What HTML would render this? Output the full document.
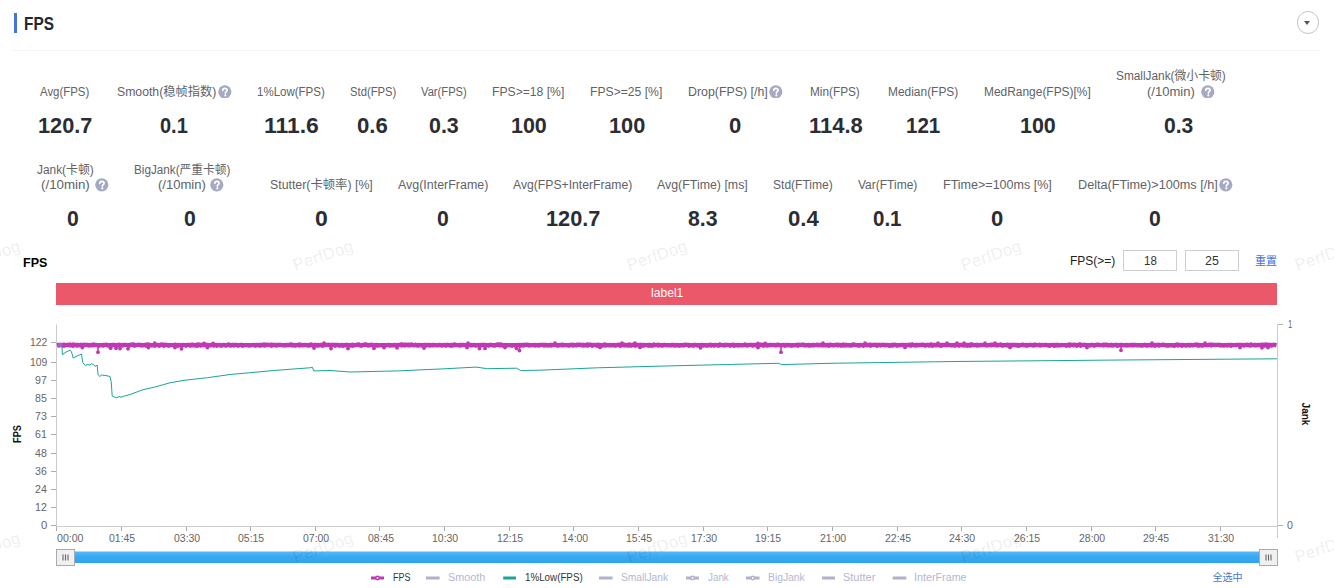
<!DOCTYPE html><html><head><meta charset="utf-8"><title>FPS</title><style>
html,body{margin:0;padding:0;background:#fff}
body{width:1334px;height:588px;position:relative;overflow:hidden;font-family:"Liberation Sans","Noto Sans CJK SC",sans-serif}
.t{position:absolute;white-space:nowrap;transform-origin:0 0;display:inline-block}
.cj{display:inline-block}
.hp{position:absolute}
.wm{position:absolute;font-size:16.5px;line-height:18px;width:80px;text-align:center;color:rgba(0,0,0,.085);transform:rotate(-19deg);transform-origin:50% 50%;white-space:nowrap;letter-spacing:.3px;z-index:9}
.bar{position:absolute;left:13.6px;top:13px;width:3.5px;height:19.5px;background:#4672d9}
.sep{position:absolute;left:13px;top:49.5px;width:1307px;height:1px;background:#f4f4f4}
.dd{position:absolute;left:1296.6px;top:11.2px;width:20.6px;height:20.6px;border:1px solid #c4c4c4;border-radius:50%}
.dd:after{content:"";position:absolute;left:6.5px;top:8.7px;border:3.7px solid transparent;border-top:4.8px solid #55575c;border-bottom:0}
.inp{position:absolute;top:250px;width:52px;height:19px;border:1px solid #cfcfcf;background:#fff}
.rot{position:absolute;white-space:nowrap;font-weight:bold;font-size:10px;line-height:10px;color:#111}
</style></head><body>
<span class="wm" style="left:-50.5px;top:245.5px">PerfDog</span>
<span class="wm" style="left:283px;top:245.5px">PerfDog</span>
<span class="wm" style="left:617px;top:245.5px">PerfDog</span>
<span class="wm" style="left:950.5px;top:245.5px">PerfDog</span>
<span class="wm" style="left:1284.5px;top:245.5px">PerfDog</span>
<span class="wm" style="left:-50.5px;top:537.5px">PerfDog</span>
<span class="wm" style="left:283px;top:537.5px">PerfDog</span>
<span class="wm" style="left:617px;top:537.5px">PerfDog</span>
<span class="wm" style="left:950.5px;top:537.5px">PerfDog</span>
<span class="wm" style="left:1284.5px;top:537.5px">PerfDog</span>
<div class="bar"></div><div class="sep"></div><div class="dd"></div>
<div class="inp" style="left:1123px"></div><div class="inp" style="left:1185px"></div>
<svg id="chart" width="1334" height="588" viewBox="0 0 1334 588" style="position:absolute;left:0;top:0">
<rect x="56" y="283" width="1221" height="22" fill="#ea5869"/>
<path d="M56.5 324.5V526" stroke="#ccc" fill="none"/>
<path d="M56 526.5H1278" stroke="#ccc" fill="none"/>
<path d="M1277.5 324.5V538" stroke="#ccc" fill="none"/>
<path d="M51 525.5H56M51 507.5H56M51 489.5H56M51 471.5H56M51 453.5H56M51 434.5H56M51 416.5H56M51 398.5H56M51 380.5H56M51 362.5H56M51 342.5H56M1278 324.5H1283M1278 525.5H1283" stroke="#aeaeae" fill="none"/>
<path d="M56.5 527V531M121.5 527V531M186.5 527V531M250.5 527V531M315.5 527V531M379.5 527V531M444.5 527V531M509.5 527V531M573.5 527V531M638.5 527V531M703.5 527V531M767.5 527V531M832.5 527V531M897.5 527V531M961.5 527V531M1026.5 527V531M1091.5 527V531M1155.5 527V531M1220.5 527V531" stroke="#aaa" fill="none"/>
<path d="M60.0 345.0 62.0 345.0 62.4 354.7 66.0 352.0 70.2 350.2 71.5 352.0 73.2 358.0 77.0 356.0 81.5 354.0 82.7 362.2 85.2 365.5 87.5 364.5 89.7 365.0 91.5 363.8 93.5 364.6 95.0 366.4 97.2 365.2 98.0 374.2 99.5 376.5 101.7 375.0 106.0 375.6 110.0 376.5 111.2 381.7 112.2 396.0 114.5 397.0 116.7 397.8 119.0 396.6 121.0 397.2 123.5 396.4 130.0 394.5 143.0 389.7 155.0 387.0 170.0 382.8 185.0 380.2 207.5 377.7 230.0 374.5 250.0 372.7 273.7 370.5 309.7 367.8 312.4 367.3 313.8 370.9 330.0 370.5 350.0 372.0 397.4 370.9 442.4 368.9 476.0 367.1 487.4 368.7 516.6 368.2 520.6 370.5 540.0 370.2 597.5 367.8 665.0 366.0 732.4 364.4 778.5 363.3 781.9 364.6 830.0 363.3 955.0 361.5 1034.0 360.8 1120.0 360.0 1277.0 358.8" stroke="#1aa596" stroke-width="1" fill="none" stroke-linejoin="round"/>
<path d="M57.0 345.3 58.5 344.9 60.0 344.9 61.5 345.2 63.0 345.0 64.5 344.8 66.0 345.1 67.5 344.8 69.0 345.2 70.5 345.2 72.0 345.2 73.5 345.1 75.0 345.0 76.5 345.0 78.0 345.0 79.5 345.3 81.0 344.8 82.5 345.3 84.0 344.8 85.5 344.9 87.0 344.9 88.5 345.3 90.0 345.1 91.5 345.0 93.0 345.3 94.5 344.9 96.0 345.0 97.5 345.1 99.0 345.2 100.5 345.2 102.0 345.1 103.5 345.0 105.0 344.9 106.5 344.8 108.0 345.3 109.5 345.1 111.0 345.2 112.5 344.9 114.0 345.0 115.5 345.2 117.0 345.1 118.5 344.8 120.0 345.0 121.5 345.3 123.0 344.9 124.5 344.9 126.0 344.9 127.5 345.2 129.0 345.3 130.5 344.8 132.0 344.8 133.5 344.9 135.0 344.9 136.5 345.1 138.0 344.8 139.5 344.9 141.0 344.9 142.5 345.3 144.0 345.2 145.5 344.8 147.0 345.3 148.5 344.8 150.0 345.0 151.5 345.3 153.0 345.2 154.5 345.2 156.0 345.0 157.5 344.9 159.0 345.1 160.5 344.8 162.0 344.9 163.5 345.0 165.0 344.8 166.5 345.0 168.0 345.2 169.5 345.2 171.0 345.1 172.5 345.1 174.0 345.0 175.5 344.8 177.0 345.1 178.5 345.0 180.0 345.2 181.5 345.3 183.0 345.0 184.5 345.1 186.0 345.2 187.5 345.0 189.0 344.9 190.5 345.2 192.0 345.3 193.5 345.2 195.0 345.2 196.5 345.3 198.0 345.2 199.5 345.1 201.0 345.0 202.5 344.9 204.0 345.1 205.5 344.8 207.0 345.0 208.5 345.2 210.0 345.2 211.5 345.1 213.0 344.9 214.5 345.0 216.0 345.0 217.5 345.1 219.0 345.0 220.5 345.2 222.0 345.3 223.5 344.9 225.0 345.1 226.5 345.2 228.0 345.0 229.5 345.0 231.0 345.3 232.5 344.8 234.0 345.1 235.5 344.8 237.0 345.2 238.5 345.3 240.0 345.1 241.5 344.8 243.0 345.1 244.5 345.1 246.0 345.2 247.5 345.1 249.0 345.1 250.5 345.2 252.0 345.1 253.5 345.0 255.0 345.3 256.5 344.9 258.0 345.2 259.5 345.0 261.0 345.2 262.5 344.8 264.0 345.3 265.5 345.0 267.0 344.8 268.5 344.9 270.0 345.0 271.5 344.8 273.0 345.0 274.5 345.0 276.0 345.2 277.5 345.0 279.0 344.9 280.5 344.9 282.0 345.2 283.5 345.3 285.0 345.1 286.5 344.9 288.0 345.2 289.5 345.0 291.0 344.9 292.5 344.8 294.0 345.2 295.5 345.2 297.0 345.1 298.5 345.0 300.0 345.1 301.5 344.9 303.0 345.3 304.5 345.0 306.0 345.1 307.5 345.2 309.0 345.2 310.5 345.0 312.0 344.9 313.5 345.1 315.0 344.8 316.5 345.3 318.0 345.0 319.5 345.3 321.0 344.9 322.5 345.0 324.0 344.9 325.5 345.0 327.0 344.9 328.5 344.8 330.0 345.2 331.5 344.9 333.0 344.9 334.5 344.9 336.0 345.0 337.5 345.0 339.0 345.1 340.5 345.1 342.0 345.0 343.5 345.3 345.0 345.3 346.5 344.8 348.0 345.2 349.5 345.3 351.0 345.2 352.5 344.8 354.0 345.2 355.5 345.1 357.0 344.8 358.5 344.8 360.0 345.3 361.5 345.1 363.0 344.9 364.5 344.8 366.0 344.8 367.5 344.9 369.0 345.2 370.5 345.0 372.0 344.8 373.5 345.3 375.0 345.2 376.5 344.9 378.0 345.3 379.5 345.1 381.0 345.2 382.5 345.2 384.0 345.3 385.5 345.2 387.0 345.3 388.5 344.9 390.0 345.2 391.5 345.1 393.0 345.2 394.5 345.0 396.0 345.3 397.5 345.1 399.0 344.9 400.5 344.9 402.0 344.8 403.5 345.0 405.0 344.8 406.5 345.0 408.0 344.8 409.5 345.0 411.0 345.0 412.5 345.1 414.0 345.3 415.5 344.8 417.0 345.3 418.5 345.0 420.0 345.1 421.5 345.1 423.0 345.3 424.5 345.0 426.0 345.0 427.5 345.3 429.0 344.8 430.5 345.1 432.0 345.1 433.5 344.8 435.0 345.1 436.5 345.2 438.0 345.3 439.5 344.9 441.0 345.3 442.5 345.1 444.0 345.0 445.5 345.3 447.0 344.8 448.5 345.2 450.0 345.1 451.5 345.0 453.0 345.3 454.5 345.0 456.0 345.0 457.5 345.1 459.0 345.2 460.5 344.9 462.0 345.0 463.5 345.0 465.0 345.1 466.5 345.2 468.0 344.9 469.5 345.2 471.0 345.0 472.5 345.1 474.0 344.9 475.5 345.1 477.0 345.3 478.5 345.1 480.0 345.2 481.5 344.9 483.0 344.9 484.5 344.9 486.0 345.1 487.5 345.1 489.0 345.2 490.5 344.8 492.0 345.2 493.5 345.3 495.0 345.1 496.5 344.8 498.0 344.9 499.5 344.8 501.0 344.9 502.5 345.3 504.0 345.1 505.5 345.1 507.0 345.2 508.5 345.3 510.0 345.1 511.5 345.1 513.0 345.1 514.5 345.2 516.0 345.1 517.5 345.2 519.0 344.9 520.5 345.2 522.0 345.0 523.5 345.2 525.0 344.8 526.5 344.9 528.0 344.8 529.5 345.2 531.0 345.3 532.5 345.1 534.0 345.0 535.5 345.2 537.0 345.2 538.5 345.1 540.0 344.9 541.5 344.9 543.0 345.0 544.5 344.9 546.0 345.0 547.5 345.1 549.0 345.3 550.5 344.8 552.0 345.1 553.5 344.8 555.0 344.8 556.5 345.2 558.0 345.1 559.5 345.3 561.0 345.0 562.5 344.8 564.0 345.0 565.5 345.1 567.0 345.3 568.5 345.3 570.0 345.0 571.5 345.0 573.0 344.8 574.5 345.1 576.0 344.9 577.5 344.8 579.0 344.8 580.5 344.8 582.0 345.2 583.5 344.8 585.0 345.3 586.5 344.8 588.0 345.3 589.5 344.8 591.0 344.8 592.5 345.2 594.0 344.9 595.5 345.2 597.0 344.9 598.5 344.8 600.0 345.2 601.5 345.2 603.0 345.3 604.5 345.2 606.0 344.8 607.5 345.1 609.0 345.2 610.5 345.0 612.0 345.3 613.5 344.9 615.0 345.3 616.5 345.2 618.0 344.8 619.5 344.8 621.0 345.1 622.5 345.2 624.0 344.8 625.5 344.9 627.0 345.2 628.5 344.8 630.0 345.3 631.5 345.0 633.0 344.8 634.5 345.0 636.0 345.1 637.5 345.0 639.0 345.2 640.5 344.8 642.0 345.2 643.5 345.0 645.0 345.1 646.5 345.1 648.0 345.0 649.5 345.0 651.0 345.2 652.5 345.3 654.0 345.2 655.5 345.1 657.0 344.9 658.5 344.8 660.0 345.3 661.5 345.2 663.0 345.2 664.5 344.9 666.0 345.1 667.5 345.3 669.0 345.2 670.5 345.1 672.0 344.9 673.5 345.0 675.0 345.3 676.5 345.0 678.0 345.2 679.5 345.1 681.0 345.3 682.5 345.2 684.0 344.9 685.5 344.8 687.0 344.9 688.5 345.0 690.0 345.1 691.5 345.2 693.0 345.3 694.5 344.8 696.0 345.2 697.5 345.2 699.0 345.3 700.5 345.1 702.0 344.9 703.5 345.3 705.0 345.2 706.5 345.2 708.0 345.3 709.5 345.0 711.0 344.8 712.5 345.1 714.0 345.2 715.5 344.9 717.0 345.2 718.5 345.3 720.0 344.9 721.5 345.1 723.0 345.2 724.5 345.0 726.0 344.9 727.5 344.9 729.0 345.2 730.5 345.2 732.0 345.0 733.5 344.8 735.0 345.2 736.5 345.2 738.0 344.9 739.5 345.1 741.0 345.3 742.5 345.3 744.0 345.1 745.5 345.0 747.0 345.1 748.5 344.9 750.0 344.9 751.5 344.9 753.0 345.2 754.5 345.0 756.0 345.1 757.5 345.0 759.0 345.1 760.5 344.8 762.0 344.8 763.5 345.3 765.0 345.0 766.5 344.8 768.0 345.1 769.5 345.2 771.0 344.8 772.5 345.1 774.0 345.0 775.5 345.1 777.0 344.8 778.5 344.8 780.0 345.3 781.5 345.3 783.0 345.0 784.5 345.1 786.0 344.9 787.5 345.2 789.0 345.0 790.5 345.3 792.0 345.2 793.5 345.2 795.0 345.3 796.5 344.9 798.0 344.8 799.5 344.9 801.0 344.9 802.5 344.8 804.0 344.8 805.5 345.1 807.0 345.3 808.5 345.0 810.0 345.3 811.5 345.3 813.0 344.8 814.5 345.1 816.0 345.0 817.5 344.8 819.0 345.3 820.5 344.9 822.0 345.1 823.5 345.1 825.0 345.3 826.5 345.2 828.0 345.0 829.5 345.0 831.0 344.8 832.5 345.3 834.0 345.3 835.5 344.9 837.0 344.8 838.5 344.9 840.0 345.0 841.5 345.3 843.0 345.3 844.5 345.3 846.0 344.8 847.5 345.2 849.0 345.2 850.5 345.1 852.0 345.3 853.5 344.8 855.0 344.8 856.5 345.2 858.0 345.3 859.5 345.2 861.0 344.9 862.5 345.1 864.0 345.2 865.5 344.8 867.0 344.9 868.5 344.9 870.0 344.8 871.5 345.0 873.0 344.9 874.5 344.9 876.0 344.8 877.5 345.2 879.0 344.8 880.5 345.2 882.0 344.9 883.5 344.8 885.0 345.3 886.5 344.9 888.0 345.3 889.5 345.3 891.0 345.3 892.5 344.8 894.0 345.0 895.5 344.8 897.0 345.3 898.5 345.3 900.0 345.1 901.5 345.0 903.0 345.0 904.5 345.2 906.0 345.0 907.5 345.1 909.0 344.8 910.5 344.9 912.0 344.8 913.5 345.2 915.0 345.1 916.5 344.8 918.0 345.3 919.5 344.9 921.0 345.0 922.5 344.8 924.0 344.9 925.5 345.3 927.0 345.0 928.5 344.9 930.0 345.0 931.5 344.9 933.0 345.3 934.5 344.8 936.0 345.3 937.5 344.8 939.0 345.3 940.5 345.2 942.0 344.9 943.5 345.0 945.0 344.9 946.5 344.9 948.0 344.9 949.5 345.0 951.0 345.3 952.5 345.3 954.0 345.3 955.5 344.8 957.0 344.9 958.5 345.3 960.0 344.8 961.5 345.2 963.0 344.9 964.5 345.3 966.0 344.8 967.5 345.2 969.0 345.0 970.5 344.8 972.0 344.8 973.5 345.2 975.0 345.1 976.5 344.9 978.0 345.0 979.5 345.3 981.0 344.9 982.5 345.1 984.0 344.8 985.5 344.9 987.0 345.2 988.5 345.2 990.0 344.9 991.5 344.8 993.0 344.8 994.5 345.1 996.0 345.0 997.5 344.9 999.0 344.9 1000.5 345.1 1002.0 345.2 1003.5 345.2 1005.0 345.1 1006.5 344.9 1008.0 344.8 1009.5 345.2 1011.0 345.0 1012.5 345.2 1014.0 344.8 1015.5 345.2 1017.0 345.0 1018.5 345.3 1020.0 345.3 1021.5 345.0 1023.0 344.8 1024.5 345.3 1026.0 345.0 1027.5 345.3 1029.0 344.9 1030.5 344.9 1032.0 345.2 1033.5 345.0 1035.0 344.8 1036.5 345.0 1038.0 345.1 1039.5 344.8 1041.0 345.1 1042.5 345.0 1044.0 345.1 1045.5 344.8 1047.0 345.2 1048.5 345.2 1050.0 345.3 1051.5 344.9 1053.0 345.2 1054.5 345.0 1056.0 345.2 1057.5 344.8 1059.0 345.3 1060.5 345.3 1062.0 345.0 1063.5 345.1 1065.0 345.1 1066.5 345.1 1068.0 344.8 1069.5 345.3 1071.0 344.9 1072.5 344.9 1074.0 344.8 1075.5 344.9 1077.0 345.2 1078.5 344.8 1080.0 344.8 1081.5 345.2 1083.0 344.9 1084.5 344.8 1086.0 345.1 1087.5 345.1 1089.0 345.1 1090.5 345.2 1092.0 344.8 1093.5 345.3 1095.0 345.2 1096.5 344.8 1098.0 344.8 1099.5 345.0 1101.0 345.1 1102.5 344.9 1104.0 344.8 1105.5 345.0 1107.0 344.8 1108.5 345.1 1110.0 345.3 1111.5 344.8 1113.0 345.1 1114.5 345.2 1116.0 344.8 1117.5 345.2 1119.0 345.3 1120.5 345.0 1122.0 345.0 1123.5 345.3 1125.0 345.1 1126.5 345.0 1128.0 345.3 1129.5 345.2 1131.0 345.0 1132.5 344.9 1134.0 345.0 1135.5 345.0 1137.0 345.3 1138.5 345.2 1140.0 345.3 1141.5 345.2 1143.0 345.3 1144.5 344.8 1146.0 345.1 1147.5 345.3 1149.0 345.3 1150.5 344.9 1152.0 345.0 1153.5 345.1 1155.0 345.0 1156.5 345.1 1158.0 344.8 1159.5 345.0 1161.0 345.1 1162.5 344.8 1164.0 344.8 1165.5 345.3 1167.0 345.2 1168.5 345.3 1170.0 345.1 1171.5 345.2 1173.0 345.3 1174.5 345.3 1176.0 344.8 1177.5 345.1 1179.0 344.9 1180.5 345.2 1182.0 344.9 1183.5 345.1 1185.0 345.3 1186.5 345.1 1188.0 344.9 1189.5 345.1 1191.0 345.0 1192.5 345.3 1194.0 344.9 1195.5 344.9 1197.0 345.1 1198.5 344.8 1200.0 345.1 1201.5 345.3 1203.0 345.1 1204.5 344.9 1206.0 345.0 1207.5 345.1 1209.0 344.8 1210.5 344.8 1212.0 344.8 1213.5 344.9 1215.0 345.0 1216.5 344.9 1218.0 344.9 1219.5 344.8 1221.0 345.1 1222.5 345.3 1224.0 345.1 1225.5 345.1 1227.0 345.1 1228.5 344.9 1230.0 345.2 1231.5 345.0 1233.0 345.1 1234.5 345.1 1236.0 345.0 1237.5 344.9 1239.0 344.9 1240.5 344.9 1242.0 345.1 1243.5 345.0 1245.0 345.1 1246.5 344.8 1248.0 345.0 1249.5 345.3 1251.0 344.9 1252.5 345.1 1254.0 345.0 1255.5 344.9 1257.0 345.3 1258.5 344.9 1260.0 345.2 1261.5 344.8 1263.0 344.8 1264.5 345.3 1266.0 345.0 1267.5 344.8 1269.0 345.0 1270.5 345.0 1272.0 345.2 1273.5 344.8 1275.0 344.9 1276.5 345.3" stroke="#c238b4" stroke-width="4.4" fill="none" stroke-linejoin="round" stroke-linecap="butt"/>
<path d="M82.3 345.0V347.6" stroke="#c238b4" stroke-width="1.6"/><circle cx="82.3" cy="347.6" r="1.9" fill="#c238b4"/><path d="M98 345.0V352.2" stroke="#c238b4" stroke-width="1.6"/><circle cx="98" cy="352.2" r="1.9" fill="#c238b4"/><path d="M110.6 345.0V348.2" stroke="#c238b4" stroke-width="1.6"/><circle cx="110.6" cy="348.2" r="1.9" fill="#c238b4"/><path d="M116 345.0V348.2" stroke="#c238b4" stroke-width="1.6"/><circle cx="116" cy="348.2" r="1.9" fill="#c238b4"/><path d="M120 345.0V348.6" stroke="#c238b4" stroke-width="1.6"/><circle cx="120" cy="348.6" r="1.9" fill="#c238b4"/><path d="M128 345.0V348.8" stroke="#c238b4" stroke-width="1.6"/><circle cx="128" cy="348.8" r="1.9" fill="#c238b4"/><path d="M148.4 345.0V347.5" stroke="#c238b4" stroke-width="1.6"/><circle cx="148.4" cy="347.5" r="1.9" fill="#c238b4"/><path d="M175 345.0V347.5" stroke="#c238b4" stroke-width="1.6"/><circle cx="175" cy="347.5" r="1.9" fill="#c238b4"/><path d="M181.5 345.0V348.8" stroke="#c238b4" stroke-width="1.6"/><circle cx="181.5" cy="348.8" r="1.9" fill="#c238b4"/><path d="M207.4 345.0V347.5" stroke="#c238b4" stroke-width="1.6"/><circle cx="207.4" cy="347.5" r="1.9" fill="#c238b4"/><path d="M314 345.0V348" stroke="#c238b4" stroke-width="1.6"/><circle cx="314" cy="348" r="1.9" fill="#c238b4"/><path d="M331 345.0V348.5" stroke="#c238b4" stroke-width="1.6"/><circle cx="331" cy="348.5" r="1.9" fill="#c238b4"/><path d="M348 345.0V348.5" stroke="#c238b4" stroke-width="1.6"/><circle cx="348" cy="348.5" r="1.9" fill="#c238b4"/><path d="M374 345.0V348.3" stroke="#c238b4" stroke-width="1.6"/><circle cx="374" cy="348.3" r="1.9" fill="#c238b4"/><path d="M384 345.0V347.6" stroke="#c238b4" stroke-width="1.6"/><circle cx="384" cy="347.6" r="1.9" fill="#c238b4"/><path d="M397 345.0V347.8" stroke="#c238b4" stroke-width="1.6"/><circle cx="397" cy="347.8" r="1.9" fill="#c238b4"/><path d="M424 345.0V348" stroke="#c238b4" stroke-width="1.6"/><circle cx="424" cy="348" r="1.9" fill="#c238b4"/><path d="M467 345.0V347.6" stroke="#c238b4" stroke-width="1.6"/><circle cx="467" cy="347.6" r="1.9" fill="#c238b4"/><path d="M479.5 345.0V348.6" stroke="#c238b4" stroke-width="1.6"/><circle cx="479.5" cy="348.6" r="1.9" fill="#c238b4"/><path d="M485 345.0V348.4" stroke="#c238b4" stroke-width="1.6"/><circle cx="485" cy="348.4" r="1.9" fill="#c238b4"/><path d="M505 345.0V347.6" stroke="#c238b4" stroke-width="1.6"/><circle cx="505" cy="347.6" r="1.9" fill="#c238b4"/><path d="M519.5 345.0V350.6" stroke="#c238b4" stroke-width="1.6"/><circle cx="519.5" cy="350.6" r="1.9" fill="#c238b4"/><path d="M516.5 345.0V348.3" stroke="#c238b4" stroke-width="1.6"/><circle cx="516.5" cy="348.3" r="1.9" fill="#c238b4"/><path d="M700.5 345.0V347.8" stroke="#c238b4" stroke-width="1.6"/><circle cx="700.5" cy="347.8" r="1.9" fill="#c238b4"/><path d="M758 345.0V347.6" stroke="#c238b4" stroke-width="1.6"/><circle cx="758" cy="347.6" r="1.9" fill="#c238b4"/><path d="M781 345.0V352.2" stroke="#c238b4" stroke-width="1.6"/><circle cx="781" cy="352.2" r="1.9" fill="#c238b4"/><path d="M1121 345.0V350.3" stroke="#c238b4" stroke-width="1.6"/><circle cx="1121" cy="350.3" r="1.9" fill="#c238b4"/><path d="M1087 345.0V347.5" stroke="#c238b4" stroke-width="1.6"/><circle cx="1087" cy="347.5" r="1.9" fill="#c238b4"/><path d="M1240 345.0V347.6" stroke="#c238b4" stroke-width="1.6"/><circle cx="1240" cy="347.6" r="1.9" fill="#c238b4"/><path d="M1262 345.0V347.8" stroke="#c238b4" stroke-width="1.6"/><circle cx="1262" cy="347.8" r="1.9" fill="#c238b4"/><path d="M1268 345.0V347.6" stroke="#c238b4" stroke-width="1.6"/><circle cx="1268" cy="347.6" r="1.9" fill="#c238b4"/><path d="M600 345.0V347.4" stroke="#c238b4" stroke-width="1.6"/><circle cx="600" cy="347.4" r="1.9" fill="#c238b4"/><path d="M640 345.0V347.4" stroke="#c238b4" stroke-width="1.6"/><circle cx="640" cy="347.4" r="1.9" fill="#c238b4"/><path d="M905 345.0V347.4" stroke="#c238b4" stroke-width="1.6"/><circle cx="905" cy="347.4" r="1.9" fill="#c238b4"/><path d="M1010 345.0V347.4" stroke="#c238b4" stroke-width="1.6"/><circle cx="1010" cy="347.4" r="1.9" fill="#c238b4"/><circle cx="154.7" cy="343.20000000000005" r="1.9" fill="#c238b4"/><circle cx="204" cy="343.3" r="1.9" fill="#c238b4"/><circle cx="213" cy="343.40000000000003" r="1.9" fill="#c238b4"/><circle cx="324" cy="343.20000000000005" r="1.9" fill="#c238b4"/><circle cx="468" cy="343.20000000000005" r="1.9" fill="#c238b4"/><circle cx="555" cy="343.20000000000005" r="1.9" fill="#c238b4"/><circle cx="622" cy="343.20000000000005" r="1.9" fill="#c238b4"/><circle cx="635" cy="343.20000000000005" r="1.9" fill="#c238b4"/><circle cx="758" cy="343.3" r="1.9" fill="#c238b4"/><circle cx="765" cy="343.3" r="1.9" fill="#c238b4"/><circle cx="823" cy="343.20000000000005" r="1.9" fill="#c238b4"/><circle cx="865" cy="343.20000000000005" r="1.9" fill="#c238b4"/><circle cx="938" cy="343.20000000000005" r="1.9" fill="#c238b4"/><circle cx="947" cy="343.20000000000005" r="1.9" fill="#c238b4"/><circle cx="957" cy="343.20000000000005" r="1.9" fill="#c238b4"/><circle cx="964" cy="343.20000000000005" r="1.9" fill="#c238b4"/><circle cx="985" cy="343.20000000000005" r="1.9" fill="#c238b4"/><circle cx="995" cy="343.20000000000005" r="1.9" fill="#c238b4"/><circle cx="1152" cy="343.20000000000005" r="1.9" fill="#c238b4"/><circle cx="1205" cy="343.20000000000005" r="1.9" fill="#c238b4"/><circle cx="59.0" cy="346.1" r="1.7" fill="#c238b4"/><circle cx="64.0" cy="346.3" r="1.7" fill="#c238b4"/><circle cx="73.0" cy="346.3" r="1.7" fill="#c238b4"/><circle cx="76.8" cy="346.1" r="1.7" fill="#c238b4"/><circle cx="83.3" cy="346.3" r="1.7" fill="#c238b4"/><circle cx="89.8" cy="345.9" r="1.7" fill="#c238b4"/><circle cx="98.8" cy="346.0" r="1.7" fill="#c238b4"/><circle cx="103.2" cy="346.1" r="1.7" fill="#c238b4"/><circle cx="108.2" cy="345.9" r="1.7" fill="#c238b4"/><circle cx="111.4" cy="346.0" r="1.7" fill="#c238b4"/><circle cx="117.9" cy="345.9" r="1.7" fill="#c238b4"/><circle cx="122.9" cy="346.0" r="1.7" fill="#c238b4"/><circle cx="129.4" cy="346.1" r="1.7" fill="#c238b4"/><circle cx="134.4" cy="346.3" r="1.7" fill="#c238b4"/><circle cx="140.9" cy="345.9" r="1.7" fill="#c238b4"/><circle cx="145.9" cy="346.0" r="1.7" fill="#c238b4"/><circle cx="154.9" cy="346.0" r="1.7" fill="#c238b4"/><circle cx="159.3" cy="346.3" r="1.7" fill="#c238b4"/><circle cx="163.7" cy="346.3" r="1.7" fill="#c238b4"/><circle cx="168.7" cy="346.0" r="1.7" fill="#c238b4"/><circle cx="177.7" cy="346.3" r="1.7" fill="#c238b4"/><circle cx="180.9" cy="346.0" r="1.7" fill="#c238b4"/><circle cx="185.9" cy="346.0" r="1.7" fill="#c238b4"/><circle cx="190.3" cy="346.1" r="1.7" fill="#c238b4"/><circle cx="196.8" cy="346.3" r="1.7" fill="#c238b4"/><circle cx="200.6" cy="346.0" r="1.7" fill="#c238b4"/><circle cx="207.1" cy="346.0" r="1.7" fill="#c238b4"/><circle cx="213.6" cy="346.1" r="1.7" fill="#c238b4"/><circle cx="216.8" cy="346.3" r="1.7" fill="#c238b4"/><circle cx="221.2" cy="346.1" r="1.7" fill="#c238b4"/><circle cx="225.6" cy="346.1" r="1.7" fill="#c238b4"/><circle cx="230.6" cy="345.9" r="1.7" fill="#c238b4"/><circle cx="233.8" cy="345.9" r="1.7" fill="#c238b4"/><circle cx="238.2" cy="346.0" r="1.7" fill="#c238b4"/><circle cx="242.6" cy="346.3" r="1.7" fill="#c238b4"/><circle cx="249.1" cy="346.0" r="1.7" fill="#c238b4"/><circle cx="255.6" cy="346.0" r="1.7" fill="#c238b4"/><circle cx="260.6" cy="346.0" r="1.7" fill="#c238b4"/><circle cx="265.0" cy="345.9" r="1.7" fill="#c238b4"/><circle cx="271.5" cy="346.3" r="1.7" fill="#c238b4"/><circle cx="276.5" cy="345.9" r="1.7" fill="#c238b4"/><circle cx="285.5" cy="345.9" r="1.7" fill="#c238b4"/><circle cx="292.0" cy="346.1" r="1.7" fill="#c238b4"/><circle cx="295.2" cy="346.0" r="1.7" fill="#c238b4"/><circle cx="299.6" cy="346.0" r="1.7" fill="#c238b4"/><circle cx="308.6" cy="346.1" r="1.7" fill="#c238b4"/><circle cx="312.4" cy="346.0" r="1.7" fill="#c238b4"/><circle cx="317.4" cy="346.0" r="1.7" fill="#c238b4"/><circle cx="322.4" cy="346.3" r="1.7" fill="#c238b4"/><circle cx="331.4" cy="345.9" r="1.7" fill="#c238b4"/><circle cx="335.2" cy="346.3" r="1.7" fill="#c238b4"/><circle cx="339.6" cy="346.3" r="1.7" fill="#c238b4"/><circle cx="342.8" cy="346.3" r="1.7" fill="#c238b4"/><circle cx="349.3" cy="346.1" r="1.7" fill="#c238b4"/><circle cx="352.5" cy="346.3" r="1.7" fill="#c238b4"/><circle cx="361.5" cy="346.3" r="1.7" fill="#c238b4"/><circle cx="368.0" cy="346.0" r="1.7" fill="#c238b4"/><circle cx="377.0" cy="346.1" r="1.7" fill="#c238b4"/><circle cx="383.5" cy="346.3" r="1.7" fill="#c238b4"/><circle cx="390.0" cy="346.1" r="1.7" fill="#c238b4"/><circle cx="396.5" cy="346.1" r="1.7" fill="#c238b4"/><circle cx="401.5" cy="346.1" r="1.7" fill="#c238b4"/><circle cx="404.7" cy="345.9" r="1.7" fill="#c238b4"/><circle cx="409.1" cy="345.9" r="1.7" fill="#c238b4"/><circle cx="418.1" cy="346.0" r="1.7" fill="#c238b4"/><circle cx="421.3" cy="345.9" r="1.7" fill="#c238b4"/><circle cx="425.7" cy="345.9" r="1.7" fill="#c238b4"/><circle cx="430.1" cy="346.0" r="1.7" fill="#c238b4"/><circle cx="433.3" cy="345.9" r="1.7" fill="#c238b4"/><circle cx="442.3" cy="345.9" r="1.7" fill="#c238b4"/><circle cx="446.1" cy="346.1" r="1.7" fill="#c238b4"/><circle cx="451.1" cy="346.3" r="1.7" fill="#c238b4"/><circle cx="460.1" cy="346.1" r="1.7" fill="#c238b4"/><circle cx="466.6" cy="346.1" r="1.7" fill="#c238b4"/><circle cx="471.6" cy="345.9" r="1.7" fill="#c238b4"/><circle cx="475.4" cy="346.1" r="1.7" fill="#c238b4"/><circle cx="481.9" cy="345.9" r="1.7" fill="#c238b4"/><circle cx="485.1" cy="345.9" r="1.7" fill="#c238b4"/><circle cx="488.3" cy="346.1" r="1.7" fill="#c238b4"/><circle cx="494.8" cy="346.0" r="1.7" fill="#c238b4"/><circle cx="499.8" cy="346.0" r="1.7" fill="#c238b4"/><circle cx="503.0" cy="345.9" r="1.7" fill="#c238b4"/><circle cx="512.0" cy="346.3" r="1.7" fill="#c238b4"/><circle cx="515.8" cy="346.1" r="1.7" fill="#c238b4"/><circle cx="520.2" cy="346.3" r="1.7" fill="#c238b4"/><circle cx="524.0" cy="345.9" r="1.7" fill="#c238b4"/><circle cx="528.4" cy="345.9" r="1.7" fill="#c238b4"/><circle cx="534.9" cy="345.9" r="1.7" fill="#c238b4"/><circle cx="539.3" cy="346.1" r="1.7" fill="#c238b4"/><circle cx="544.3" cy="346.0" r="1.7" fill="#c238b4"/><circle cx="547.5" cy="345.9" r="1.7" fill="#c238b4"/><circle cx="551.3" cy="346.0" r="1.7" fill="#c238b4"/><circle cx="557.8" cy="345.9" r="1.7" fill="#c238b4"/><circle cx="562.8" cy="345.9" r="1.7" fill="#c238b4"/><circle cx="569.3" cy="346.1" r="1.7" fill="#c238b4"/><circle cx="573.1" cy="346.1" r="1.7" fill="#c238b4"/><circle cx="576.3" cy="346.1" r="1.7" fill="#c238b4"/><circle cx="582.8" cy="346.1" r="1.7" fill="#c238b4"/><circle cx="587.2" cy="345.9" r="1.7" fill="#c238b4"/><circle cx="592.2" cy="346.3" r="1.7" fill="#c238b4"/><circle cx="597.2" cy="346.3" r="1.7" fill="#c238b4"/><circle cx="602.2" cy="345.9" r="1.7" fill="#c238b4"/><circle cx="606.0" cy="346.0" r="1.7" fill="#c238b4"/><circle cx="615.0" cy="346.1" r="1.7" fill="#c238b4"/><circle cx="620.0" cy="346.3" r="1.7" fill="#c238b4"/><circle cx="625.0" cy="346.0" r="1.7" fill="#c238b4"/><circle cx="628.2" cy="346.1" r="1.7" fill="#c238b4"/><circle cx="631.4" cy="346.1" r="1.7" fill="#c238b4"/><circle cx="635.2" cy="346.3" r="1.7" fill="#c238b4"/><circle cx="640.2" cy="346.1" r="1.7" fill="#c238b4"/><circle cx="643.4" cy="346.3" r="1.7" fill="#c238b4"/><circle cx="648.4" cy="346.3" r="1.7" fill="#c238b4"/><circle cx="651.6" cy="346.3" r="1.7" fill="#c238b4"/><circle cx="658.1" cy="346.0" r="1.7" fill="#c238b4"/><circle cx="662.5" cy="346.0" r="1.7" fill="#c238b4"/><circle cx="671.5" cy="345.9" r="1.7" fill="#c238b4"/><circle cx="674.7" cy="346.0" r="1.7" fill="#c238b4"/><circle cx="679.1" cy="346.1" r="1.7" fill="#c238b4"/><circle cx="684.1" cy="346.1" r="1.7" fill="#c238b4"/><circle cx="689.1" cy="346.3" r="1.7" fill="#c238b4"/><circle cx="693.5" cy="346.1" r="1.7" fill="#c238b4"/><circle cx="698.5" cy="345.9" r="1.7" fill="#c238b4"/><circle cx="702.9" cy="345.9" r="1.7" fill="#c238b4"/><circle cx="707.3" cy="346.1" r="1.7" fill="#c238b4"/><circle cx="711.1" cy="346.1" r="1.7" fill="#c238b4"/><circle cx="714.3" cy="346.1" r="1.7" fill="#c238b4"/><circle cx="718.7" cy="346.1" r="1.7" fill="#c238b4"/><circle cx="725.2" cy="346.0" r="1.7" fill="#c238b4"/><circle cx="730.2" cy="346.1" r="1.7" fill="#c238b4"/><circle cx="734.0" cy="346.3" r="1.7" fill="#c238b4"/><circle cx="738.4" cy="346.1" r="1.7" fill="#c238b4"/><circle cx="747.4" cy="346.0" r="1.7" fill="#c238b4"/><circle cx="752.4" cy="346.1" r="1.7" fill="#c238b4"/><circle cx="756.8" cy="346.0" r="1.7" fill="#c238b4"/><circle cx="763.3" cy="346.1" r="1.7" fill="#c238b4"/><circle cx="767.1" cy="346.0" r="1.7" fill="#c238b4"/><circle cx="776.1" cy="346.1" r="1.7" fill="#c238b4"/><circle cx="785.1" cy="346.3" r="1.7" fill="#c238b4"/><circle cx="791.6" cy="346.0" r="1.7" fill="#c238b4"/><circle cx="798.1" cy="346.3" r="1.7" fill="#c238b4"/><circle cx="804.6" cy="346.1" r="1.7" fill="#c238b4"/><circle cx="809.6" cy="346.1" r="1.7" fill="#c238b4"/><circle cx="813.4" cy="345.9" r="1.7" fill="#c238b4"/><circle cx="822.4" cy="345.9" r="1.7" fill="#c238b4"/><circle cx="828.9" cy="346.3" r="1.7" fill="#c238b4"/><circle cx="837.9" cy="346.0" r="1.7" fill="#c238b4"/><circle cx="841.1" cy="346.1" r="1.7" fill="#c238b4"/><circle cx="845.5" cy="345.9" r="1.7" fill="#c238b4"/><circle cx="850.5" cy="345.9" r="1.7" fill="#c238b4"/><circle cx="859.5" cy="346.1" r="1.7" fill="#c238b4"/><circle cx="863.3" cy="346.3" r="1.7" fill="#c238b4"/><circle cx="867.1" cy="345.9" r="1.7" fill="#c238b4"/><circle cx="870.3" cy="346.3" r="1.7" fill="#c238b4"/><circle cx="876.8" cy="346.3" r="1.7" fill="#c238b4"/><circle cx="880.6" cy="345.9" r="1.7" fill="#c238b4"/><circle cx="889.6" cy="346.3" r="1.7" fill="#c238b4"/><circle cx="892.8" cy="346.1" r="1.7" fill="#c238b4"/><circle cx="897.2" cy="346.1" r="1.7" fill="#c238b4"/><circle cx="906.2" cy="346.0" r="1.7" fill="#c238b4"/><circle cx="910.6" cy="346.3" r="1.7" fill="#c238b4"/><circle cx="915.6" cy="346.0" r="1.7" fill="#c238b4"/><circle cx="924.6" cy="346.1" r="1.7" fill="#c238b4"/><circle cx="929.0" cy="346.1" r="1.7" fill="#c238b4"/><circle cx="932.2" cy="346.3" r="1.7" fill="#c238b4"/><circle cx="941.2" cy="346.3" r="1.7" fill="#c238b4"/><circle cx="946.2" cy="345.9" r="1.7" fill="#c238b4"/><circle cx="955.2" cy="346.0" r="1.7" fill="#c238b4"/><circle cx="959.0" cy="346.0" r="1.7" fill="#c238b4"/><circle cx="963.4" cy="345.9" r="1.7" fill="#c238b4"/><circle cx="967.2" cy="346.3" r="1.7" fill="#c238b4"/><circle cx="970.4" cy="346.3" r="1.7" fill="#c238b4"/><circle cx="976.9" cy="346.1" r="1.7" fill="#c238b4"/><circle cx="985.9" cy="345.9" r="1.7" fill="#c238b4"/><circle cx="990.9" cy="345.9" r="1.7" fill="#c238b4"/><circle cx="997.4" cy="346.1" r="1.7" fill="#c238b4"/><circle cx="1002.4" cy="346.1" r="1.7" fill="#c238b4"/><circle cx="1006.8" cy="346.1" r="1.7" fill="#c238b4"/><circle cx="1011.8" cy="345.9" r="1.7" fill="#c238b4"/><circle cx="1018.3" cy="346.3" r="1.7" fill="#c238b4"/><circle cx="1027.3" cy="346.1" r="1.7" fill="#c238b4"/><circle cx="1033.8" cy="346.1" r="1.7" fill="#c238b4"/><circle cx="1040.3" cy="346.0" r="1.7" fill="#c238b4"/><circle cx="1049.3" cy="346.3" r="1.7" fill="#c238b4"/><circle cx="1054.3" cy="346.3" r="1.7" fill="#c238b4"/><circle cx="1057.5" cy="345.9" r="1.7" fill="#c238b4"/><circle cx="1066.5" cy="346.3" r="1.7" fill="#c238b4"/><circle cx="1069.7" cy="345.9" r="1.7" fill="#c238b4"/><circle cx="1073.5" cy="345.9" r="1.7" fill="#c238b4"/><circle cx="1076.7" cy="346.3" r="1.7" fill="#c238b4"/><circle cx="1080.5" cy="346.3" r="1.7" fill="#c238b4"/><circle cx="1089.5" cy="345.9" r="1.7" fill="#c238b4"/><circle cx="1094.5" cy="346.0" r="1.7" fill="#c238b4"/><circle cx="1103.5" cy="346.1" r="1.7" fill="#c238b4"/><circle cx="1107.9" cy="345.9" r="1.7" fill="#c238b4"/><circle cx="1112.3" cy="346.0" r="1.7" fill="#c238b4"/><circle cx="1117.3" cy="346.3" r="1.7" fill="#c238b4"/><circle cx="1126.3" cy="346.0" r="1.7" fill="#c238b4"/><circle cx="1132.8" cy="345.9" r="1.7" fill="#c238b4"/><circle cx="1141.8" cy="346.1" r="1.7" fill="#c238b4"/><circle cx="1146.8" cy="346.1" r="1.7" fill="#c238b4"/><circle cx="1151.8" cy="346.1" r="1.7" fill="#c238b4"/><circle cx="1155.0" cy="346.3" r="1.7" fill="#c238b4"/><circle cx="1158.8" cy="346.1" r="1.7" fill="#c238b4"/><circle cx="1167.8" cy="346.1" r="1.7" fill="#c238b4"/><circle cx="1174.3" cy="346.3" r="1.7" fill="#c238b4"/><circle cx="1178.1" cy="345.9" r="1.7" fill="#c238b4"/><circle cx="1181.9" cy="346.3" r="1.7" fill="#c238b4"/><circle cx="1186.3" cy="346.0" r="1.7" fill="#c238b4"/><circle cx="1189.5" cy="346.1" r="1.7" fill="#c238b4"/><circle cx="1198.5" cy="346.3" r="1.7" fill="#c238b4"/><circle cx="1202.3" cy="346.1" r="1.7" fill="#c238b4"/><circle cx="1211.3" cy="346.0" r="1.7" fill="#c238b4"/><circle cx="1220.3" cy="346.0" r="1.7" fill="#c238b4"/><circle cx="1224.1" cy="346.1" r="1.7" fill="#c238b4"/><circle cx="1227.3" cy="346.0" r="1.7" fill="#c238b4"/><circle cx="1231.1" cy="346.3" r="1.7" fill="#c238b4"/><circle cx="1240.1" cy="346.3" r="1.7" fill="#c238b4"/><circle cx="1243.9" cy="346.1" r="1.7" fill="#c238b4"/><circle cx="1250.4" cy="346.1" r="1.7" fill="#c238b4"/><circle cx="1254.8" cy="345.9" r="1.7" fill="#c238b4"/><circle cx="1261.3" cy="346.0" r="1.7" fill="#c238b4"/><circle cx="1265.1" cy="346.1" r="1.7" fill="#c238b4"/><circle cx="1271.6" cy="346.0" r="1.7" fill="#c238b4"/><circle cx="1069.9" cy="344.1" r="1.8" fill="#c238b4"/><circle cx="199.1" cy="344.1" r="1.8" fill="#c238b4"/><circle cx="411.5" cy="344.1" r="1.8" fill="#c238b4"/><circle cx="498.0" cy="344.1" r="1.8" fill="#c238b4"/><circle cx="310.8" cy="344.1" r="1.8" fill="#c238b4"/><circle cx="133.3" cy="344.1" r="1.8" fill="#c238b4"/><circle cx="401.3" cy="344.1" r="1.8" fill="#c238b4"/><circle cx="299.5" cy="344.1" r="1.8" fill="#c238b4"/><circle cx="912.5" cy="344.1" r="1.8" fill="#c238b4"/><circle cx="604.3" cy="344.1" r="1.8" fill="#c238b4"/><circle cx="197.3" cy="344.1" r="1.8" fill="#c238b4"/><circle cx="454.2" cy="344.1" r="1.8" fill="#c238b4"/><circle cx="629.4" cy="344.1" r="1.8" fill="#c238b4"/><circle cx="501.0" cy="344.1" r="1.8" fill="#c238b4"/><circle cx="264.2" cy="344.1" r="1.8" fill="#c238b4"/><circle cx="147.3" cy="344.1" r="1.8" fill="#c238b4"/><circle cx="73.1" cy="344.1" r="1.8" fill="#c238b4"/><circle cx="1265.4" cy="344.1" r="1.8" fill="#c238b4"/><circle cx="971.8" cy="344.1" r="1.8" fill="#c238b4"/><circle cx="162.0" cy="344.1" r="1.8" fill="#c238b4"/><circle cx="931.3" cy="344.1" r="1.8" fill="#c238b4"/><circle cx="1251.0" cy="344.1" r="1.8" fill="#c238b4"/><circle cx="744.8" cy="344.1" r="1.8" fill="#c238b4"/><circle cx="192.2" cy="344.1" r="1.8" fill="#c238b4"/><circle cx="654.0" cy="344.1" r="1.8" fill="#c238b4"/><circle cx="587.6" cy="344.1" r="1.8" fill="#c238b4"/><circle cx="290.6" cy="344.1" r="1.8" fill="#c238b4"/><circle cx="719.8" cy="344.1" r="1.8" fill="#c238b4"/><circle cx="70.1" cy="344.1" r="1.8" fill="#c238b4"/><circle cx="1177.3" cy="344.1" r="1.8" fill="#c238b4"/><circle cx="843.1" cy="344.1" r="1.8" fill="#c238b4"/><circle cx="822.7" cy="344.1" r="1.8" fill="#c238b4"/><circle cx="1196.3" cy="344.1" r="1.8" fill="#c238b4"/><circle cx="852.9" cy="344.1" r="1.8" fill="#c238b4"/><circle cx="365.5" cy="344.1" r="1.8" fill="#c238b4"/><circle cx="358.9" cy="344.1" r="1.8" fill="#c238b4"/><circle cx="228.5" cy="344.1" r="1.8" fill="#c238b4"/><circle cx="93.6" cy="344.1" r="1.8" fill="#c238b4"/><circle cx="1000.9" cy="344.1" r="1.8" fill="#c238b4"/><circle cx="1080.1" cy="344.1" r="1.8" fill="#c238b4"/>
<circle cx="60" cy="345" r="2.4" fill="#8a7fd0" opacity=".6"/>
<defs><linearGradient id="sb" x1="0" y1="0" x2="0" y2="1"><stop offset="0" stop-color="#58b8f8"/><stop offset=".45" stop-color="#38a9f1"/><stop offset="1" stop-color="#2ea4ee"/></linearGradient></defs>
<rect x="57" y="551.5" width="1220" height="11.5" fill="url(#sb)"/>
<rect x="56.5" y="549.5" width="18" height="16" fill="#f0f0f2" stroke="#a9a9b4"/>
<path d="M63.0 554.5V560.5M65.5 554.5V560.5M68.0 554.5V560.5" stroke="#666" stroke-width="1.1"/>
<rect x="1259.5" y="549.5" width="18" height="16" fill="#f0f0f2" stroke="#a9a9b4"/>
<path d="M1266.0 554.5V560.5M1268.5 554.5V560.5M1271.0 554.5V560.5" stroke="#666" stroke-width="1.1"/>
<path d="M371 578H384" stroke="#c238b4" stroke-width="3"/><circle cx="377.5" cy="578" r="1.7" fill="#fff" stroke="#c238b4" stroke-width="1.5"/>
<path d="M426 578H439.6" stroke="#b0b2c8" stroke-width="3"/>
<path d="M503.2 578H516" stroke="#19a594" stroke-width="3"/>
<path d="M599 578H612.6" stroke="#b0b2c8" stroke-width="3"/>
<path d="M686 578H699" stroke="#b0b2c8" stroke-width="3"/><circle cx="692.5" cy="578" r="1.7" fill="#fff" stroke="#b0b2c8" stroke-width="1.5"/>
<path d="M746 578H759.5" stroke="#b0b2c8" stroke-width="3"/><circle cx="752.75" cy="578" r="1.7" fill="#fff" stroke="#b0b2c8" stroke-width="1.5"/>
<path d="M822 578H835" stroke="#b0b2c8" stroke-width="3"/>
<path d="M892.7 578H906.3" stroke="#b0b2c8" stroke-width="3"/>
</svg>
<span class="t" id="t0" style="left:24.30px;top:11.09px;font-size:18.5px;line-height:25px;color:#25272c;font-weight:bold;transform:scaleX(0.8309);">FPS</span>
<span class="t" id="t1" style="left:40.10px;top:83.84px;font-size:12px;line-height:16px;color:#606266;transform:scaleX(0.9518);">Avg(FPS)</span>
<span class="t" id="t2" style="left:38.10px;top:110.88px;font-size:22px;line-height:29px;color:#2b2d33;font-weight:bold;transform:scaleX(0.9862);">120.7</span>
<span class="t" id="t3" style="left:117.10px;top:83.84px;font-size:12px;line-height:16px;color:#606266;transform:scaleX(1.0199);">Smooth(稳帧指数)</span>
<span class="t" id="t4" style="left:159.60px;top:110.88px;font-size:22px;line-height:29px;color:#2b2d33;font-weight:bold;transform:scaleX(0.9087);">0.1</span>
<span class="t" id="t5" style="left:256.60px;top:83.84px;font-size:12px;line-height:16px;color:#606266;transform:scaleX(0.9592);">1%Low(FPS)</span>
<span class="t" id="t6" style="left:263.60px;top:110.88px;font-size:22px;line-height:29px;color:#2b2d33;font-weight:bold;transform:scaleX(1.0410);">111.6</span>
<span class="t" id="t7" style="left:349.60px;top:83.84px;font-size:12px;line-height:16px;color:#606266;transform:scaleX(0.9383);">Std(FPS)</span>
<span class="t" id="t8" style="left:357.10px;top:110.88px;font-size:22px;line-height:29px;color:#2b2d33;font-weight:bold;transform:scaleX(1.0067);">0.6</span>
<span class="t" id="t9" style="left:420.60px;top:83.84px;font-size:12px;line-height:16px;color:#606266;transform:scaleX(0.9323);">Var(FPS)</span>
<span class="t" id="t10" style="left:428.60px;top:110.88px;font-size:22px;line-height:29px;color:#2b2d33;font-weight:bold;transform:scaleX(0.9741);">0.3</span>
<span class="t" id="t11" style="left:492.10px;top:83.84px;font-size:12px;line-height:16px;color:#606266;transform:scaleX(1.0130);">FPS&gt;=18 [%]</span>
<span class="t" id="t12" style="left:510.60px;top:110.88px;font-size:22px;line-height:29px;color:#2b2d33;font-weight:bold;transform:scaleX(0.9750);">100</span>
<span class="t" id="t13" style="left:590.10px;top:83.84px;font-size:12px;line-height:16px;color:#606266;transform:scaleX(1.0130);">FPS&gt;=25 [%]</span>
<span class="t" id="t14" style="left:608.60px;top:110.88px;font-size:22px;line-height:29px;color:#2b2d33;font-weight:bold;transform:scaleX(0.9886);">100</span>
<span class="t" id="t15" style="left:687.60px;top:83.84px;font-size:12px;line-height:16px;color:#606266;transform:scaleX(1.0315);">Drop(FPS) [/h]</span>
<span class="t" id="t16" style="left:729.10px;top:110.88px;font-size:22px;line-height:29px;color:#2b2d33;font-weight:bold;transform:scaleX(1.0041);">0</span>
<span class="t" id="t17" style="left:810.10px;top:83.84px;font-size:12px;line-height:16px;color:#606266;transform:scaleX(0.9828);">Min(FPS)</span>
<span class="t" id="t18" style="left:808.60px;top:110.88px;font-size:22px;line-height:29px;color:#2b2d33;font-weight:bold;transform:scaleX(0.9992);">114.8</span>
<span class="t" id="t19" style="left:888.10px;top:83.84px;font-size:12px;line-height:16px;color:#606266;transform:scaleX(0.9945);">Median(FPS)</span>
<span class="t" id="t20" style="left:905.60px;top:110.88px;font-size:22px;line-height:29px;color:#2b2d33;font-weight:bold;transform:scaleX(0.9341);">121</span>
<span class="t" id="t21" style="left:983.60px;top:83.84px;font-size:12px;line-height:16px;color:#606266;transform:scaleX(0.9946);">MedRange(FPS)[%]</span>
<span class="t" id="t22" style="left:1019.60px;top:110.88px;font-size:22px;line-height:29px;color:#2b2d33;font-weight:bold;transform:scaleX(0.9750);">100</span>
<span class="t" id="t23" style="left:1115.60px;top:67.84px;font-size:12px;line-height:16px;color:#606266;transform:scaleX(0.9860);">SmallJank(微小卡顿)</span>
<span class="t" id="t24" style="left:1146.60px;top:83.84px;font-size:12px;line-height:16px;color:#606266;transform:scaleX(1.0860);">(/10min)</span>
<span class="t" id="t25" style="left:1163.60px;top:110.88px;font-size:22px;line-height:29px;color:#2b2d33;font-weight:bold;transform:scaleX(0.9577);">0.3</span>
<span class="t" id="t26" style="left:36.60px;top:161.84px;font-size:12px;line-height:16px;color:#606266;transform:scaleX(0.9905);">Jank(卡顿)</span>
<span class="t" id="t27" style="left:40.60px;top:177.44px;font-size:12px;line-height:16px;color:#606266;transform:scaleX(1.1087);">(/10min)</span>
<span class="t" id="t28" style="left:66.60px;top:203.88px;font-size:22px;line-height:29px;color:#2b2d33;font-weight:bold;transform:scaleX(0.9633);">0</span>
<span class="t" id="t29" style="left:133.60px;top:161.84px;font-size:12px;line-height:16px;color:#606266;transform:scaleX(0.9758);">BigJank(严重卡顿)</span>
<span class="t" id="t30" style="left:157.60px;top:177.44px;font-size:12px;line-height:16px;color:#606266;transform:scaleX(1.0860);">(/10min)</span>
<span class="t" id="t31" style="left:183.60px;top:203.88px;font-size:22px;line-height:29px;color:#2b2d33;font-weight:bold;transform:scaleX(0.9633);">0</span>
<span class="t" id="t32" style="left:270.10px;top:177.44px;font-size:12px;line-height:16px;color:#606266;transform:scaleX(1.0277);">Stutter(卡顿率) [%]</span>
<span class="t" id="t33" style="left:315.10px;top:203.88px;font-size:22px;line-height:29px;color:#2b2d33;font-weight:bold;transform:scaleX(1.0449);">0</span>
<span class="t" id="t34" style="left:397.60px;top:177.44px;font-size:12px;line-height:16px;color:#606266;transform:scaleX(1.0363);">Avg(InterFrame)</span>
<span class="t" id="t35" style="left:436.60px;top:203.88px;font-size:22px;line-height:29px;color:#2b2d33;font-weight:bold;transform:scaleX(0.9633);">0</span>
<span class="t" id="t36" style="left:513.10px;top:177.44px;font-size:12px;line-height:16px;color:#606266;transform:scaleX(1.0155);">Avg(FPS+InterFrame)</span>
<span class="t" id="t37" style="left:545.60px;top:203.88px;font-size:22px;line-height:29px;color:#2b2d33;font-weight:bold;transform:scaleX(0.9862);">120.7</span>
<span class="t" id="t38" style="left:657.10px;top:177.44px;font-size:12px;line-height:16px;color:#606266;transform:scaleX(1.0316);">Avg(FTime) [ms]</span>
<span class="t" id="t39" style="left:687.60px;top:203.88px;font-size:22px;line-height:29px;color:#2b2d33;font-weight:bold;transform:scaleX(0.9659);">8.3</span>
<span class="t" id="t40" style="left:773.10px;top:177.44px;font-size:12px;line-height:16px;color:#606266;transform:scaleX(1.0040);">Std(FTime)</span>
<span class="t" id="t41" style="left:787.60px;top:203.88px;font-size:22px;line-height:29px;color:#2b2d33;font-weight:bold;transform:scaleX(1.0067);">0.4</span>
<span class="t" id="t42" style="left:858.10px;top:177.44px;font-size:12px;line-height:16px;color:#606266;transform:scaleX(0.9995);">Var(FTime)</span>
<span class="t" id="t43" style="left:872.60px;top:203.88px;font-size:22px;line-height:29px;color:#2b2d33;font-weight:bold;transform:scaleX(0.9332);">0.1</span>
<span class="t" id="t44" style="left:942.60px;top:177.44px;font-size:12px;line-height:16px;color:#606266;transform:scaleX(1.0435);">FTime&gt;=100ms [%]</span>
<span class="t" id="t45" style="left:990.60px;top:203.88px;font-size:22px;line-height:29px;color:#2b2d33;font-weight:bold;transform:scaleX(1.0041);">0</span>
<span class="t" id="t46" style="left:1077.60px;top:177.44px;font-size:12px;line-height:16px;color:#606266;transform:scaleX(1.0543);">Delta(FTime)&gt;100ms [/h]</span>
<span class="t" id="t47" style="left:1149.10px;top:203.88px;font-size:22px;line-height:29px;color:#2b2d33;font-weight:bold;transform:scaleX(0.9633);">0</span>
<span class="t" id="t48" style="left:23.10px;top:254.00px;font-size:13px;line-height:17px;color:#000;font-weight:bold;transform:scaleX(0.9606);">FPS</span>
<span class="t" id="t49" style="left:1069.60px;top:253.34px;font-size:12px;line-height:16px;color:#222;transform:scaleX(0.9987);">FPS(&gt;=)</span>
<span class="t" id="t50" style="left:1143.60px;top:253.34px;font-size:12px;line-height:16px;color:#333;transform:scaleX(0.9581);">18</span>
<span class="t" id="t51" style="left:1204.60px;top:253.34px;font-size:12px;line-height:16px;color:#333;transform:scaleX(1.0330);">25</span>
<span class="t" id="t52" style="left:650.60px;top:285.34px;font-size:12px;line-height:16px;color:#fff;transform:scaleX(1.0084);">label1</span>
<span class="t" id="t53" style="left:40.60px;top:519.13px;font-size:10px;line-height:13px;color:#666;transform:scaleX(1.1326);">0</span>
<span class="t" id="t54" style="left:35.10px;top:501.14px;font-size:10px;line-height:13px;color:#666;transform:scaleX(1.0607);">12</span>
<span class="t" id="t55" style="left:35.10px;top:483.14px;font-size:10px;line-height:13px;color:#666;transform:scaleX(1.0607);">24</span>
<span class="t" id="t56" style="left:35.10px;top:465.14px;font-size:10px;line-height:13px;color:#666;transform:scaleX(1.0607);">36</span>
<span class="t" id="t57" style="left:35.10px;top:447.14px;font-size:10px;line-height:13px;color:#666;transform:scaleX(1.0607);">48</span>
<span class="t" id="t58" style="left:35.10px;top:427.64px;font-size:10px;line-height:13px;color:#666;transform:scaleX(1.0607);">61</span>
<span class="t" id="t59" style="left:35.10px;top:409.64px;font-size:10px;line-height:13px;color:#666;transform:scaleX(1.0607);">73</span>
<span class="t" id="t60" style="left:35.10px;top:391.64px;font-size:10px;line-height:13px;color:#666;transform:scaleX(1.0607);">85</span>
<span class="t" id="t61" style="left:35.10px;top:373.64px;font-size:10px;line-height:13px;color:#666;transform:scaleX(1.0607);">97</span>
<span class="t" id="t62" style="left:29.60px;top:355.64px;font-size:10px;line-height:13px;color:#666;transform:scaleX(1.0367);">109</span>
<span class="t" id="t63" style="left:29.60px;top:336.14px;font-size:10px;line-height:13px;color:#666;transform:scaleX(1.0367);">122</span>
<span class="t" id="t64" style="left:1287.60px;top:318.14px;font-size:10px;line-height:13px;color:#666;transform:scaleX(0.7730);">1</span>
<span class="t" id="t65" style="left:1287.10px;top:518.84px;font-size:10px;line-height:13px;color:#666;transform:scaleX(1.0607);">0</span>
<span class="t" id="t66" style="left:56.60px;top:532.03px;font-size:10px;line-height:13px;color:#666;transform:scaleX(1.0587);">00:00</span>
<span class="t" id="t67" style="left:108.95px;top:532.03px;font-size:10px;line-height:13px;color:#666;transform:scaleX(1.0467);">01:45</span>
<span class="t" id="t68" style="left:173.60px;top:532.03px;font-size:10px;line-height:13px;color:#666;transform:scaleX(1.0467);">03:30</span>
<span class="t" id="t69" style="left:238.25px;top:532.03px;font-size:10px;line-height:13px;color:#666;transform:scaleX(1.0467);">05:15</span>
<span class="t" id="t70" style="left:302.90px;top:532.03px;font-size:10px;line-height:13px;color:#666;transform:scaleX(1.0467);">07:00</span>
<span class="t" id="t71" style="left:367.55px;top:532.03px;font-size:10px;line-height:13px;color:#666;transform:scaleX(1.0467);">08:45</span>
<span class="t" id="t72" style="left:432.20px;top:532.03px;font-size:10px;line-height:13px;color:#666;transform:scaleX(1.0467);">10:30</span>
<span class="t" id="t73" style="left:496.85px;top:532.03px;font-size:10px;line-height:13px;color:#666;transform:scaleX(1.0467);">12:15</span>
<span class="t" id="t74" style="left:561.50px;top:532.03px;font-size:10px;line-height:13px;color:#666;transform:scaleX(1.0467);">14:00</span>
<span class="t" id="t75" style="left:626.15px;top:532.03px;font-size:10px;line-height:13px;color:#666;transform:scaleX(1.0467);">15:45</span>
<span class="t" id="t76" style="left:690.80px;top:532.03px;font-size:10px;line-height:13px;color:#666;transform:scaleX(1.0467);">17:30</span>
<span class="t" id="t77" style="left:755.45px;top:532.03px;font-size:10px;line-height:13px;color:#666;transform:scaleX(1.0467);">19:15</span>
<span class="t" id="t78" style="left:820.10px;top:532.03px;font-size:10px;line-height:13px;color:#666;transform:scaleX(1.0467);">21:00</span>
<span class="t" id="t79" style="left:884.75px;top:532.03px;font-size:10px;line-height:13px;color:#666;transform:scaleX(1.0467);">22:45</span>
<span class="t" id="t80" style="left:949.40px;top:532.03px;font-size:10px;line-height:13px;color:#666;transform:scaleX(1.0467);">24:30</span>
<span class="t" id="t81" style="left:1014.05px;top:532.03px;font-size:10px;line-height:13px;color:#666;transform:scaleX(1.0467);">26:15</span>
<span class="t" id="t82" style="left:1078.70px;top:532.03px;font-size:10px;line-height:13px;color:#666;transform:scaleX(1.0467);">28:00</span>
<span class="t" id="t83" style="left:1143.35px;top:532.03px;font-size:10px;line-height:13px;color:#666;transform:scaleX(1.0467);">29:45</span>
<span class="t" id="t84" style="left:1208.00px;top:532.03px;font-size:10px;line-height:13px;color:#666;transform:scaleX(1.0467);">31:30</span>
<span class="t" id="t85" style="left:392.60px;top:571.33px;font-size:10px;line-height:13px;color:#333;transform:scaleX(0.8945);">FPS</span>
<span class="t" id="t86" style="left:448.35px;top:571.33px;font-size:10px;line-height:13px;color:#b5b7cc;transform:scaleX(1.0807);">Smooth</span>
<span class="t" id="t87" style="left:525.10px;top:571.33px;font-size:10px;line-height:13px;color:#333;transform:scaleX(0.9795);">1%Low(FPS)</span>
<span class="t" id="t88" style="left:621.10px;top:571.33px;font-size:10px;line-height:13px;color:#b5b7cc;transform:scaleX(1.0186);">SmallJank</span>
<span class="t" id="t89" style="left:707.60px;top:571.33px;font-size:10px;line-height:13px;color:#b5b7cc;transform:scaleX(0.9846);">Jank</span>
<span class="t" id="t90" style="left:767.60px;top:571.33px;font-size:10px;line-height:13px;color:#b5b7cc;transform:scaleX(1.0343);">BigJank</span>
<span class="t" id="t91" style="left:843.10px;top:571.33px;font-size:10px;line-height:13px;color:#b5b7cc;transform:scaleX(1.0961);">Stutter</span>
<span class="t" id="t92" style="left:914.30px;top:571.33px;font-size:10px;line-height:13px;color:#b5b7cc;transform:scaleX(1.0755);">InterFrame</span>
<svg class="hp" style="left:218px;top:84.7px" width="13.6" height="13.6" viewBox="0 0 14 14"><circle cx="7" cy="7" r="6.8" fill="#a6a9c2"/><path d="M4.9 5.5c0-1.3 1-2.1 2.2-2.1 1.3 0 2.2.8 2.2 1.9 0 .9-.5 1.4-1.1 1.8-.5.4-.6.6-.6 1.2" fill="none" stroke="#fff" stroke-width="1.8" stroke-linecap="round"/><circle cx="7.55" cy="10.7" r="1.1" fill="#fff"/></svg>
<svg class="hp" style="left:769px;top:84.7px" width="13.6" height="13.6" viewBox="0 0 14 14"><circle cx="7" cy="7" r="6.8" fill="#a6a9c2"/><path d="M4.9 5.5c0-1.3 1-2.1 2.2-2.1 1.3 0 2.2.8 2.2 1.9 0 .9-.5 1.4-1.1 1.8-.5.4-.6.6-.6 1.2" fill="none" stroke="#fff" stroke-width="1.8" stroke-linecap="round"/><circle cx="7.55" cy="10.7" r="1.1" fill="#fff"/></svg>
<svg class="hp" style="left:1201px;top:84.7px" width="13.6" height="13.6" viewBox="0 0 14 14"><circle cx="7" cy="7" r="6.8" fill="#a6a9c2"/><path d="M4.9 5.5c0-1.3 1-2.1 2.2-2.1 1.3 0 2.2.8 2.2 1.9 0 .9-.5 1.4-1.1 1.8-.5.4-.6.6-.6 1.2" fill="none" stroke="#fff" stroke-width="1.8" stroke-linecap="round"/><circle cx="7.55" cy="10.7" r="1.1" fill="#fff"/></svg>
<svg class="hp" style="left:95px;top:178.3px" width="13.6" height="13.6" viewBox="0 0 14 14"><circle cx="7" cy="7" r="6.8" fill="#a6a9c2"/><path d="M4.9 5.5c0-1.3 1-2.1 2.2-2.1 1.3 0 2.2.8 2.2 1.9 0 .9-.5 1.4-1.1 1.8-.5.4-.6.6-.6 1.2" fill="none" stroke="#fff" stroke-width="1.8" stroke-linecap="round"/><circle cx="7.55" cy="10.7" r="1.1" fill="#fff"/></svg>
<svg class="hp" style="left:210px;top:178.3px" width="13.6" height="13.6" viewBox="0 0 14 14"><circle cx="7" cy="7" r="6.8" fill="#a6a9c2"/><path d="M4.9 5.5c0-1.3 1-2.1 2.2-2.1 1.3 0 2.2.8 2.2 1.9 0 .9-.5 1.4-1.1 1.8-.5.4-.6.6-.6 1.2" fill="none" stroke="#fff" stroke-width="1.8" stroke-linecap="round"/><circle cx="7.55" cy="10.7" r="1.1" fill="#fff"/></svg>
<svg class="hp" style="left:1219px;top:178.3px" width="13.6" height="13.6" viewBox="0 0 14 14"><circle cx="7" cy="7" r="6.8" fill="#a6a9c2"/><path d="M4.9 5.5c0-1.3 1-2.1 2.2-2.1 1.3 0 2.2.8 2.2 1.9 0 .9-.5 1.4-1.1 1.8-.5.4-.6.6-.6 1.2" fill="none" stroke="#fff" stroke-width="1.8" stroke-linecap="round"/><circle cx="7.55" cy="10.7" r="1.1" fill="#fff"/></svg>
<span style="position:absolute;left:1255px;top:256px;font-size:11px;line-height:11px;color:#3f6fe0;white-space:nowrap">重置</span>
<span style="position:absolute;left:1212.5px;top:572.5px;font-size:10px;line-height:10px;color:#4a72d6;white-space:nowrap">全选中</span>
<span class="rot" style="left:17.5px;top:434px;transform:translate(-50%,-50%) rotate(-90deg) scaleX(.92)">FPS</span>
<span class="rot" style="left:1304.7px;top:414px;transform:translate(-50%,-50%) rotate(90deg)">Jank</span>
</body></html>
